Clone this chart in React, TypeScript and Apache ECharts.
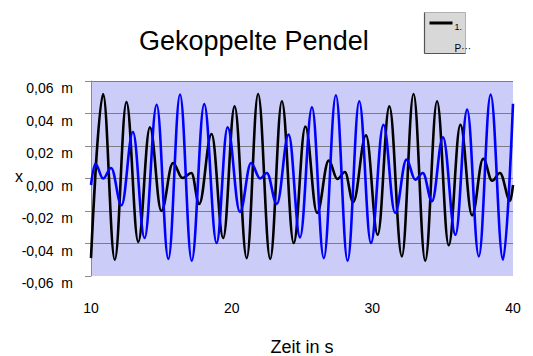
import React, { useEffect, useRef } from "react";
import * as echarts from "echarts";

// Pendulum 1 (black): extrema [time s, x m]
const pendel1Time = [10.0, 10.86, 11.69, 12.52, 13.36, 14.19, 15.0, 15.83, 16.5, 17.14, 17.69, 18.57, 19.4, 20.21, 21.07, 21.88, 22.74, 23.57, 24.41, 25.24, 26.07, 26.9, 27.52, 28.05, 28.64, 29.55, 30.38, 31.21, 32.1, 32.93, 33.76, 34.6, 35.43, 36.26, 37.09, 37.88, 38.52, 39.07, 39.8, 40.0];
const pendel1X = [-0.049, 0.052, -0.05, 0.047, -0.039, 0.0315, -0.02, 0.0095, 0.0003, 0.0034, -0.0157, 0.0274, -0.0366, 0.0444, -0.049, 0.052, -0.0495, 0.0475, -0.0397, 0.032, -0.0212, 0.011, -0.0003, 0.004, -0.0145, 0.0266, -0.0346, 0.0444, -0.0479, 0.052, -0.0506, 0.0475, -0.0411, 0.0331, -0.0227, 0.0122, -0.0014, 0.0034, -0.0136, -0.004];

// Pendulum 2 (blue)
const pendel2Time = [10.0, 10.31, 10.86, 11.43, 12.17, 12.98, 13.81, 14.67, 15.5, 16.33, 17.16, 18.05, 18.93, 19.71, 20.59, 21.38, 22.02, 22.5, 23.21, 24.05, 24.86, 25.71, 26.55, 27.41, 28.24, 29.07, 29.9, 30.79, 31.62, 32.43, 33.05, 33.59, 34.24, 35.02, 35.91, 36.74, 37.57, 38.41, 39.29, 40.0];
const pendel2X = [-0.004, 0.009, 0.0, 0.0065, -0.0165, 0.0286, -0.0366, 0.0454, -0.0495, 0.0516, -0.0506, 0.0458, -0.0397, 0.0315, -0.0206, 0.0095, 0.0, 0.0034, -0.0157, 0.027, -0.0362, 0.0438, -0.049, 0.0512, -0.0506, 0.0475, -0.0397, 0.0331, -0.0212, 0.0116, -0.0007, 0.0034, -0.014, 0.0254, -0.0346, 0.0424, -0.0479, 0.0516, -0.05, 0.046];

const xTicks = [10, 20, 30, 40];
const yTicks = [-0.06, -0.04, -0.02, 0, 0.02, 0.04, 0.06];

const FONT = "'Liberation Sans', Arial, Helvetica, sans-serif";

export default function App() {
  const ref = useRef<HTMLDivElement>(null);
  useEffect(() => {
    if (!ref.current) return;
    const chart = echarts.init(ref.current, undefined, { renderer: "svg" });
    const s1 = pendel1Time.map((t, i) => [t, pendel1X[i]]);
    const s2 = pendel2Time.map((t, i) => [t, pendel2X[i]]);
    chart.setOption({
      animation: false,
      backgroundColor: "#ffffff",
      title: {
        text: "Gekoppelte Pendel",
        left: 139,
        top: 27,
        padding: 0,
        textStyle: { fontFamily: FONT, fontSize: 27, fontWeight: "normal", color: "#000" },
      },
      grid: {
        left: 91,
        right: 20,
        top: 81,
        bottom: 80,
        show: true,
        backgroundColor: "#ccccf9",
        borderWidth: 0,
        containLabel: false,
        outerBoundsMode: "none",
      },
      xAxis: {
        type: "value",
        min: xTicks[0],
        max: xTicks[xTicks.length - 1],
        interval: 10,
        name: "Zeit in s",
        nameLocation: "middle",
        nameGap: 63,
        nameTextStyle: { fontFamily: FONT, fontSize: 18, lineHeight: 16, color: "#000" },
        axisLine: { show: false },
        axisTick: { show: false },
        splitLine: { show: false },
        axisLabel: { fontFamily: FONT, fontSize: 14, color: "#000", margin: 25 },
      },
      yAxis: {
        type: "value",
        min: yTicks[0],
        max: yTicks[yTicks.length - 1],
        interval: 0.02,
        axisLine: { show: true, lineStyle: { color: "#8a8a8a", width: 1 } },
        axisTick: { show: true, length: 6, lineStyle: { color: "#8a8a8a" } },
        splitLine: { show: true, showMinLine: false, lineStyle: { color: "#7d7d7d", width: 1 } },
        axisLabel: {
          fontFamily: FONT,
          fontSize: 14,
          color: "#000",
          margin: 18,
          verticalAlign: "top",
          lineHeight: 14,
          formatter: (v: number) => {
            const val = Math.abs(v) < 1e-9 ? 0 : v;
            return val.toFixed(2).replace(".", ",") + "  m";
          },
        },
      },
      graphic: [
        {
          type: "text",
          left: 15,
          top: 168,
          style: { text: "x", fontFamily: FONT, fontSize: 16, fill: "#000" },
        },
        {
          type: "group",
          left: 422,
          top: 10,
          children: [
            { type: "rect", shape: { x: 0, y: 0, width: 41, height: 41 }, style: { fill: "#d8d8d8", stroke: "#b0b0b0", lineWidth: 1 } },
            { type: "line", shape: { x1: 0, y1: 0, x2: 0, y2: 41 }, style: { stroke: "#555", lineWidth: 1.2 } },
            { type: "line", shape: { x1: 0, y1: 41, x2: 41, y2: 41 }, style: { stroke: "#555", lineWidth: 1.2 } },
            { type: "line", shape: { x1: 5, y1: 10.5, x2: 28, y2: 10.5 }, style: { stroke: "#000", lineWidth: 3 } },
            { type: "text", x: 30, y: 10, style: { text: "1.", fontFamily: FONT, fontSize: 9, fill: "#000" } },
            { type: "text", x: 30, y: 31, style: { text: "P···", fontFamily: FONT, fontSize: 10, fill: "#000" } },
          ],
        },
      ],
      series: [
        {
          name: "1.",
          type: "line",
          data: s1,
          showSymbol: false,
          smooth: 0.38,
          smoothMonotone: "x",
          lineStyle: { color: "#000000", width: 2.6 },
          itemStyle: { color: "#000000" },
        },
        {
          name: "2.",
          type: "line",
          data: s2,
          showSymbol: false,
          smooth: 0.38,
          smoothMonotone: "x",
          lineStyle: { color: "#0000ff", width: 2.6 },
          itemStyle: { color: "#0000ff" },
        },
      ],
    });
    return () => chart.dispose();
  }, []);
  return <div ref={ref} style={{ position: "fixed", left: 0, top: 0, width: 533, height: 356 }} />;
}
